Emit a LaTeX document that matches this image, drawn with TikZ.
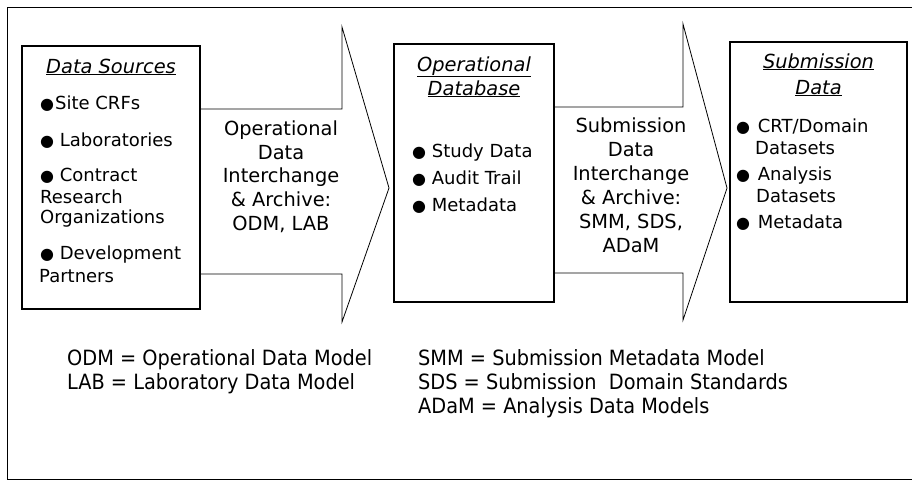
\documentclass[tikz,border=0pt]{standalone}
\usepackage{fontspec}
\setmainfont{DejaVu Sans}
\newfontfamily\legfont{DejaVu Sans}[FakeStretch=0.92]
\newcommand\bulx[1]{{\fontsize{16}{16}\selectfont ●}\hspace{#1}}
\begin{document}
\begin{tikzpicture}[x=1pt,y=-1pt,
  box/.style={draw, line width=1.4pt, fill=white, inner sep=0pt},
  blk/.style={draw, line width=0.8pt},
  item/.style={anchor=base west, inner sep=0pt, font=\fontsize{18}{21}\selectfont},
  ttl/.style={anchor=base, inner sep=0pt, font=\fontsize{19.4}{24}\selectfont\itshape},
  mid/.style={anchor=base, inner sep=0pt, font=\fontsize{19.4}{24}\selectfont},
  leg/.style={anchor=base west, inner sep=0pt, font=\legfont\fontsize{21}{24}\selectfont}]
\useasboundingbox (0,0) rectangle (912,482);
% outer frame
\draw[line width=1pt] (913,7) -- (7,7) -- (7,479) -- (913,479);
% boxes
\node[box, minimum width=178pt, minimum height=263pt] (src) at (111,177.5) {};
\node[box, minimum width=160pt, minimum height=258pt] (odb) at (474,173) {};
\node[box, minimum width=177pt, minimum height=260pt] (sub) at (818.5,172) {};
% block arrows
\coordinate (a1t) at (342,109);
\coordinate (a1b) at (342,274);
\coordinate (a1h) at (342,27);
\coordinate (a1p) at (389,188);
\coordinate (a1l) at (342,322);
\draw[blk] (src.east |- a1t) -- (a1t) -- (a1h) -- (a1p) -- (a1l) -- (a1b) -- (src.east |- a1b);
\coordinate (a2t) at (683,107);
\coordinate (a2b) at (683,273);
\coordinate (a2h) at (683,24);
\coordinate (a2p) at (727,188);
\coordinate (a2l) at (683,320);
\draw[blk] (odb.east |- a2t) -- (a2t) -- (a2h) -- (a2p) -- (a2l) -- (a2b) -- (odb.east |- a2b);
% box 1
\node[ttl] (srcT) at (111,73) {\underline{Data Sources}};
\node[item] (s1) at (40,109) {\bulx{1pt}Site CRFs};
\node[item] (s2) at (40,146) {\bulx{0pt} Laboratories};
\node[item] (s3) at (40,181) {\bulx{0pt} Contract};
\node[item] (s3b) at (40,203) {Research};
\node[item] (s3c) at (40,223) {Organizations};
\node[item] (s4) at (40,259) {\bulx{0pt} Development};
\node[item] (s4b) at (39,282) {Partners};
% arrow 1 text
\node[mid] (m1a) at (281,135) {Operational};
\node[mid] (m1b) at (281,159) {Data};
\node[mid] (m1c) at (281,182) {Interchange};
\node[mid] (m1d) at (281,206) {\& Archive:};
\node[mid] (m1e) at (281,230) {ODM, LAB};
% box 2
\node[ttl] (odbT1) at (474,71) {\underline{Operational}};
\node[ttl] (odbT2) at (474,95) {\underline{Database}};
\node[item] (o1) at (412,157) {\bulx{0pt} Study Data};
\node[item] (o2) at (412,184) {\bulx{0pt} Audit Trail};
\node[item] (o3) at (412,211) {\bulx{0pt} Metadata};
% arrow 2 text
\node[mid] (m2a) at (631,132) {Submission};
\node[mid] (m2b) at (631,156) {Data};
\node[mid] (m2c) at (631,180) {Interchange};
\node[mid] (m2d) at (631,204) {\& Archive:};
\node[mid] (m2e) at (631,228) {SMM, SDS,};
\node[mid] (m2f) at (631,252) {ADaM};
% box 3
\node[ttl] (subT1) at (818.5,68) {\underline{Submission}};
\node[ttl] (subT2) at (818.5,94) {\underline{Data}};
\node[item] (u1) at (736,132) {\bulx{2pt} CRT/Domain};
\node[item] (u1b) at (755,154) {Datasets};
\node[item] (u2) at (736,180) {\bulx{2pt} Analysis};
\node[item] (u2b) at (756,202) {Datasets};
\node[item] (u3) at (736,228) {\bulx{2pt} Metadata};
% legend
\node[leg] (l1) at (67,365) {ODM = Operational Data Model};
\node[leg] (l2) at (67,389) {LAB = Laboratory Data Model};
\node[leg] (r1) at (418,365) {SMM = Submission Metadata Model};
\node[leg] (r2) at (418,389) {SDS = Submission\ \ Domain Standards};
\node[leg] (r3) at (418,413) {ADaM = Analysis Data Models};
\end{tikzpicture}
\end{document}
